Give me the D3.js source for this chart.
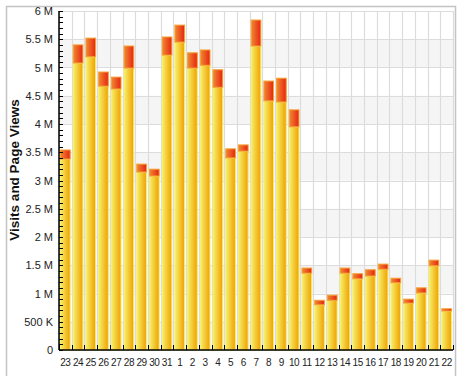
<!DOCTYPE html>
<html>
<head>
<meta charset="utf-8">
<script src="https://cdn.jsdelivr.net/npm/d3@7"></script>
<style>
  body { margin: 0; background: #fff; }
  svg { display: block; font-family: "Liberation Sans", Arial, sans-serif; }
</style>
</head>
<body>
<div id="chart"></div>
<script>
// Days shown on the x axis
var days = ["23","24","25","26","27","28","29","30","31","1","2","3","4","5","6","7","8","9","10",
            "11","12","13","14","15","16","17","18","19","20","21","22"]

// Bottom segment (yellow), in millions
var visits = [3.38,5.08,5.19,4.67,4.62,4.99,3.15,3.08,5.22,5.45,4.99,5.04,4.65,3.40,3.52,5.38,4.41,4.39,3.95,
              1.36,0.80,0.88,1.36,1.26,1.31,1.43,1.19,0.83,1.01,1.49,0.69]

// Top segment (red), in millions
var pageViews = [0.16,0.32,0.33,0.25,0.21,0.39,0.14,0.12,0.32,0.30,0.27,0.27,0.31,0.16,0.11,0.46,0.35,0.42,0.30,
                 0.09,0.08,0.09,0.09,0.09,0.11,0.09,0.08,0.07,0.09,0.10,0.04]

var yTicks = [0,0.5,1,1.5,2,2.5,3,3.5,4,4.5,5,5.5,6]

var W = 463, H = 376
var margin = {top: 11, right: 10, bottom: 26, left: 59}
var width = 453 - margin.left
var height = 350 - margin.top

var data = days.map((d, i) => ({day: d, visits: visits[i], pageViews: pageViews[i]}))

var svg = d3.select("#chart").append("svg")
    .attr("width", W)
    .attr("height", H)

var defs = svg.append("defs")
var gy = defs.append("linearGradient").attr("id", "gYellow")
gy.append("stop").attr("offset", "0%").attr("stop-color", "#f6f06a")
gy.append("stop").attr("offset", "100%").attr("stop-color", "#f0a000")
var gr = defs.append("linearGradient").attr("id", "gRed")
gr.append("stop").attr("offset", "0%").attr("stop-color", "#f08a30")
gr.append("stop").attr("offset", "100%").attr("stop-color", "#e82412")

// outer frame
svg.append("rect")
    .attr("x", 6.5).attr("y", 6.5)
    .attr("width", 449).attr("height", 372)
    .attr("fill", "none")
    .attr("stroke", "#c4c4c4")
    .attr("stroke-width", 1.5)

var g = svg.append("g")
    .attr("transform", "translate(" + margin.left + "," + margin.top + ")")

var xScale = d3.scaleBand().domain(days).range([0, width]).paddingInner(0.16).paddingOuter(0.08)
var yScale = d3.scaleLinear().domain([0, 6]).range([height, 0])

// alternating bands
g.selectAll(".band")
    .data(yTicks.filter(t => t < 6 && (t * 2) % 2 == 0))
    .enter().append("rect")
    .attr("x", 0)
    .attr("width", width)
    .attr("y", d => yScale(d + 0.5))
    .attr("height", d => yScale(d) - yScale(d + 0.5))
    .attr("fill", "#f5f5f5")

// horizontal grid
g.selectAll(".hgrid")
    .data(yTicks)
    .enter().append("line")
    .attr("x1", 0).attr("x2", width)
    .attr("y1", d => Math.round(yScale(d)) + 0.5)
    .attr("y2", d => Math.round(yScale(d)) + 0.5)
    .attr("stroke", "#dcdcdc")

// vertical grid at band boundaries
var step = xScale.step()
var bounds = d3.range(days.length + 1).map(i => i * width / days.length)
g.selectAll(".vgrid")
    .data(bounds)
    .enter().append("line")
    .attr("x1", d => Math.round(d) + 0.5).attr("x2", d => Math.round(d) + 0.5)
    .attr("y1", 0).attr("y2", height)
    .attr("stroke", "#dcdcdc")
    .attr("stroke-width", 1.2)

// bars
var bars = g.selectAll(".bar")
    .data(data)
    .enter().append("g")
    .attr("class", "bar")

bars.append("rect")
    .attr("x", d => xScale(d.day) + 0.5)
    .attr("width", xScale.bandwidth() - 1)
    .attr("y", d => yScale(d.visits))
    .attr("height", d => yScale(0) - yScale(d.visits))
    .attr("fill", "url(#gYellow)")
    .attr("stroke", "#f7ee70")
    .attr("stroke-width", 1)

bars.append("rect")
    .attr("x", d => xScale(d.day) + 0.5)
    .attr("width", xScale.bandwidth() - 1)
    .attr("y", d => yScale(d.visits + d.pageViews))
    .attr("height", d => yScale(d.visits) - yScale(d.visits + d.pageViews))
    .attr("fill", "url(#gRed)")
    .attr("stroke", "#f4a030")
    .attr("stroke-width", 1)

// y axis with minor ticks
var minor = d3.range(0, 60.5, 1).map(v => v / 10)
g.selectAll(".ytick")
    .data(minor)
    .enter().append("line")
    .attr("x1", 0).attr("x2", 4)
    .attr("y1", d => Math.round(yScale(d)) + 0.5)
    .attr("y2", d => Math.round(yScale(d)) + 0.5)
    .attr("stroke", "#000")

g.append("line")
    .attr("x1", 0).attr("x2", 0)
    .attr("y1", 0).attr("y2", height)
    .attr("stroke", "#000").attr("stroke-width", 1.5)

var fmt = v => v == 0 ? "0" : (v < 1 ? (v * 1000) + " K" : v + " M")
g.selectAll(".ylab")
    .data(yTicks)
    .enter().append("text")
    .attr("x", -6)
    .attr("y", d => yScale(d) + 4)
    .attr("text-anchor", "end")
    .attr("font-size", "11px")
    .attr("fill", "#222")
    .text(fmt)

// x axis
g.append("line")
    .attr("x1", 0).attr("x2", width)
    .attr("y1", height).attr("y2", height)
    .attr("stroke", "#000").attr("stroke-width", 1.5)

g.selectAll(".xtick")
    .data(bounds)
    .enter().append("line")
    .attr("x1", d => Math.round(d) + 0.5).attr("x2", d => Math.round(d) + 0.5)
    .attr("y1", height).attr("y2", height - 5)
    .attr("stroke", "#000")

g.selectAll(".xlab")
    .data(days)
    .enter().append("text")
    .attr("x", d => xScale(d) + xScale.bandwidth() / 2)
    .attr("y", height + 16)
    .attr("text-anchor", "middle")
    .attr("font-size", "10px")
    .attr("letter-spacing", "-0.4px")
    .attr("fill", "#222")
    .text(d => d)

// y title
svg.append("text")
    .attr("transform", "translate(19,170) rotate(-90)")
    .attr("text-anchor", "middle")
    .attr("font-size", "13.5px")
    .attr("font-weight", "bold")
    .attr("fill", "#111")
    .text("Visits and Page Views")
</script>
</body>
</html>
